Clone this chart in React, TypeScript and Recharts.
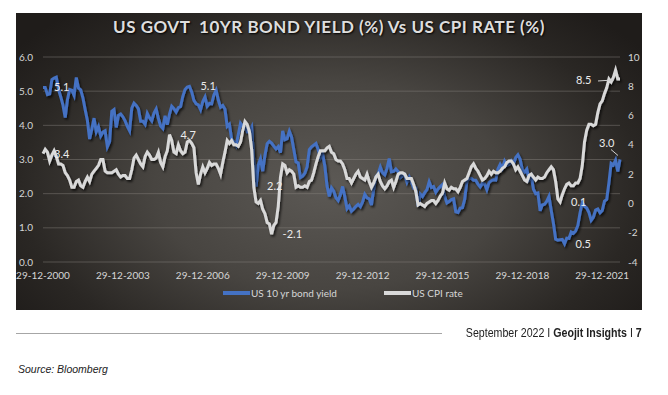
import { LineChart, Line, XAxis, YAxis, CartesianGrid, Legend, LabelList } from 'recharts'

// monthly, Dec 2000 .. Aug 2022
const bondYield = [
  5.11,
  5.11, 4.90, 4.92, 5.34, 5.38, 5.41, 5.05, 4.83, 4.59, 4.23, 4.75, 5.05,
  5.03, 4.88, 5.40, 5.09, 5.04, 4.80, 4.46, 4.14, 3.60, 3.89, 4.21, 3.81,
  3.96, 3.69, 3.80, 3.84, 3.37, 3.52, 4.41, 4.46, 3.94, 4.29, 4.33, 4.25,
  4.13, 3.97, 3.84, 4.50, 4.65, 4.58, 4.48, 4.12, 4.12, 4.03, 4.35, 4.22,
  4.13, 4.36, 4.48, 4.20, 3.98, 3.91, 4.28, 4.02, 4.33, 4.56, 4.49, 4.39,
  4.52, 4.55, 4.85, 5.05, 5.12, 5.14, 4.98, 4.73, 4.63, 4.60, 4.46, 4.70,
  4.83, 4.56, 4.64, 4.63, 4.89, 5.03, 4.74, 4.53, 4.58, 4.47, 3.97, 4.03,
  3.59, 3.51, 3.41, 3.73, 4.06, 3.97, 3.95, 3.81, 3.82, 3.95, 2.93, 2.21,
  2.84, 3.02, 2.66, 3.12, 3.46, 3.53, 3.48, 3.39, 3.31, 3.38, 3.20, 3.84,
  3.58, 3.61, 3.83, 3.66, 3.29, 2.93, 2.90, 2.47, 2.51, 2.60, 2.79, 3.29,
  3.37, 3.42, 3.47, 3.29, 3.05, 3.16, 2.80, 2.22, 1.92, 2.17, 2.07, 1.88,
  1.80, 1.97, 2.21, 1.91, 1.56, 1.64, 1.49, 1.55, 1.63, 1.69, 1.62, 1.76,
  1.98, 1.88, 1.85, 1.67, 2.13, 2.49, 2.58, 2.78, 2.61, 2.55, 2.74, 3.03,
  2.64, 2.65, 2.72, 2.65, 2.47, 2.53, 2.56, 2.34, 2.49, 2.34, 2.16, 2.17,
  1.64, 1.99, 1.92, 2.03, 2.12, 2.35, 2.18, 2.21, 2.04, 2.14, 2.21, 2.27,
  1.92, 1.73, 1.77, 1.83, 1.85, 1.47, 1.45, 1.58, 1.59, 1.83, 2.37, 2.44,
  2.45, 2.39, 2.39, 2.28, 2.20, 2.30, 2.29, 2.12, 2.33, 2.38, 2.41, 2.40,
  2.72, 2.86, 2.74, 2.95, 2.83, 2.86, 2.96, 2.86, 3.06, 3.14, 3.01, 2.69,
  2.63, 2.72, 2.41, 2.51, 2.13, 2.00, 2.02, 1.50, 1.67, 1.69, 1.78, 1.92,
  1.51, 1.13, 0.67, 0.64, 0.65, 0.66, 0.53, 0.70, 0.69, 0.88, 0.84, 0.91,
  1.07, 1.44, 1.74, 1.63, 1.58, 1.45, 1.22, 1.31, 1.52, 1.55, 1.44, 1.51,
  1.78, 1.83, 2.32, 2.89, 2.84, 2.98, 2.65, 3.00,
]

const cpiRate = [
  3.4,
  3.7, 3.5, 2.9, 3.3, 3.6, 3.2, 2.7, 2.7, 2.6, 2.1, 1.9, 1.6,
  1.1, 1.1, 1.5, 1.6, 1.2, 1.1, 1.5, 1.8, 1.5, 2.0, 2.2, 2.4,
  2.6, 3.0, 3.0, 2.2, 2.1, 2.1, 2.1, 2.2, 2.3, 2.0, 1.8, 1.9,
  1.9, 1.7, 1.7, 2.3, 3.1, 3.3, 3.0, 2.7, 2.5, 3.2, 3.5, 3.3,
  3.0, 3.0, 3.1, 3.5, 2.8, 2.5, 3.2, 3.6, 4.7, 4.3, 3.5, 3.4,
  4.0, 3.6, 3.4, 3.5, 4.2, 4.3, 4.1, 3.8, 2.1, 1.3, 2.0, 2.5,
  2.1, 2.4, 2.8, 2.6, 2.7, 2.7, 2.4, 2.0, 2.8, 3.5, 4.3, 4.1,
  4.3, 4.0, 4.0, 3.9, 4.2, 5.0, 5.6, 5.4, 4.9, 3.7, 1.1, 0.1,
  0.0, 0.2, -0.4, -0.7, -1.3, -1.4, -2.1, -1.5, -1.3, -0.2, 1.8, 2.7,
  2.6, 2.1, 2.3, 2.2, 2.0, 1.1, 1.2, 1.1, 1.1, 1.2, 1.1, 1.5,
  1.6, 2.1, 2.7, 3.2, 3.6, 3.6, 3.6, 3.8, 3.9, 3.5, 3.4, 3.0,
  2.9, 2.9, 2.7, 2.3, 1.7, 1.7, 1.4, 1.7, 2.0, 2.2, 1.8, 1.7,
  1.6, 2.0, 1.5, 1.1, 1.4, 1.8, 2.0, 1.5, 1.2, 1.0, 1.2, 1.5,
  1.6, 1.1, 1.5, 2.0, 2.1, 2.1, 2.0, 1.7, 1.7, 1.7, 1.3, 0.8,
  -0.1, 0.0, -0.1, -0.2, 0.0, 0.1, 0.2, 0.2, 0.0, 0.2, 0.5, 0.7,
  1.4, 1.0, 0.9, 1.1, 1.0, 1.0, 0.8, 1.1, 1.5, 1.6, 1.7, 2.1,
  2.5, 2.7, 2.4, 2.2, 1.9, 1.6, 1.7, 1.9, 2.2, 2.0, 2.2, 2.1,
  2.1, 2.2, 2.4, 2.5, 2.8, 2.9, 2.9, 2.7, 2.3, 2.5, 2.2, 1.9,
  1.6, 1.5, 1.9, 2.0, 1.8, 1.6, 1.8, 1.7, 1.7, 1.8, 2.1, 2.3,
  2.5, 2.3, 1.5, 0.3, 0.1, 0.6, 1.0, 1.3, 1.4, 1.2, 1.2, 1.4,
  1.4, 1.7, 2.6, 4.2, 5.0, 5.4, 5.4, 5.3, 5.4, 6.2, 6.8, 7.0,
  7.5, 7.9, 8.5, 8.3, 8.6, 9.1, 8.5, 8.5,
]

const xTicks = [0, 36, 72, 108, 144, 180, 216, 252]
const xTickLabels = ['29-12-2000', '29-12-2003', '29-12-2006', '29-12-2009', '29-12-2012', '29-12-2015', '29-12-2018', '29-12-2021']
const leftTicks = [0, 1, 2, 3, 4, 5, 6]
const rightTicks = [-4, -2, 0, 2, 4, 6, 8, 10]

// data labels: month index -> text
const bondLabels: Record<number, string> = { 0: '5.1', 66: '5.1', 96: '2.2', 235: '0.5', 260: '3.0' }
const cpiLabels: Record<number, string> = { 0: '3.4', 57: '4.7', 103: '-2.1', 233: '0.1', 260: '8.5' }

const data = bondYield.map((v, i) => ({ m: i, bond: v, cpi: cpiRate[i] }))

const BLUE = '#4472c4'
const GREY = '#d9d9d9'
const TXT = '#d6d6d6'
const FONT = 'Lato, "Open Sans", sans-serif'

const W = 626
const H = 297

const makeLabel = (labels: Record<number, string>, series: string) => (props: any) => {
  const { x, y, index } = props
  const text = labels[index]
  if (!text) return null
  const style = { fontFamily: FONT, fontSize: 11, fill: '#ececec' }
  if (index === data.length - 1) {
    if (series === 'cpi') {
      return (
        <g>
          <line x1={x - 22} y1={y + 2} x2={x - 6} y2={y + 1} stroke="#cfcfcf" strokeWidth={1} />
          <text x={x - 44} y={y + 5} style={style}>{text}</text>
        </g>
      )
    }
    return (
      <g>
        <line x1={x - 9} y1={y - 10} x2={x - 2} y2={y - 4} stroke="#cfcfcf" strokeWidth={1} />
        <text x={x - 21} y={y - 13} style={style}>{text}</text>
      </g>
    )
  }
  return <text x={x + 11} y={y + 4} style={style}>{text}</text>
}

const legendX = [207, 368]

const renderLegend = (props: any) => {
  const { payload } = props
  return (
    <div style={{ position: 'relative', width: W, height: 26 }}>
      {payload.map((entry: any, i: number) => (
        <div key={entry.value} style={{ position: 'absolute', left: legendX[i], top: 2, display: 'flex', alignItems: 'center', height: 14 }}>
          <span style={{ display: 'inline-block', width: 27, height: 4, background: entry.color }} />
          <span style={{ fontFamily: FONT, fontSize: 10, color: TXT, marginLeft: 1 }}>{entry.value}</span>
        </div>
      ))}
    </div>
  )
}

function BondCpiChart() {
  return (
    <div
      style={{
        position: 'absolute',
        left: 16,
        top: 13,
        width: W,
        height: H,
        background: 'radial-gradient(ellipse 62% 78% at 50% 58%, #5c5955 0%, #484541 45%, #2a2724 80%, #1f1c1a 100%)',
      }}
    >
      <div
        style={{
          position: 'absolute',
          top: 3,
          left: 0,
          width: W,
          textAlign: 'center',
          fontFamily: FONT,
          fontWeight: 700,
          fontSize: 17,
          letterSpacing: 0.5,
          color: '#dedede',
          whiteSpace: 'pre',
          textShadow: '1px 1px 2px #000',
          zIndex: 1,
        }}
      >
        {'US GOVT  10YR BOND YIELD (%) Vs US CPI RATE (%)'}
      </div>
      <LineChart width={W} height={H} data={data} margin={{ top: 44, right: 0, bottom: 0, left: 0 }}>
        <defs>
          <filter id="lineShadow" x="-5%" y="-10%" width="110%" height="130%">
            <feDropShadow dx="1.5" dy="2" stdDeviation="1.2" floodColor="#000" floodOpacity="0.7" />
          </filter>
        </defs>
        <CartesianGrid yAxisId="left" vertical={false} stroke="#8a8580" strokeOpacity={0.45} />
        <XAxis
          dataKey="m"
          type="number"
          domain={[0, 260]}
          ticks={xTicks}
          tickFormatter={(v: number) => xTickLabels[xTicks.indexOf(v)]}
          axisLine={false}
          tickLine={false}
          tickMargin={4}
          height={22}
          tick={{ fill: TXT, fontSize: 10, fontFamily: FONT }}
        />
        <YAxis
          yAxisId="left"
          domain={[0, 6]}
          ticks={leftTicks}
          tickFormatter={(v: number) => v.toFixed(1)}
          axisLine={false}
          tickLine={false}
          tickMargin={4}
          width={27}
          tick={{ fill: TXT, fontSize: 10, fontFamily: FONT }}
        />
        <YAxis
          yAxisId="right"
          orientation="right"
          domain={[-4, 10]}
          ticks={rightTicks}
          axisLine={false}
          tickLine={false}
          width={22}
          tick={{ fill: TXT, fontSize: 10, fontFamily: FONT }}
        />
        <Legend verticalAlign="bottom" height={26} wrapperStyle={{ left: 0, width: W }} content={renderLegend} />
        <Line
          yAxisId="left"
          dataKey="bond"
          name="US 10 yr bond yield"
          stroke={BLUE}
          strokeWidth={3}
          dot={false}
          filter="url(#lineShadow)"
          isAnimationActive={false}
        >
          <LabelList dataKey="bond" content={makeLabel(bondLabels, 'bond')} />
        </Line>
        <Line
          yAxisId="right"
          dataKey="cpi"
          name="US CPI rate"
          stroke={GREY}
          strokeWidth={3}
          dot={false}
          filter="url(#lineShadow)"
          isAnimationActive={false}
        >
          <LabelList dataKey="cpi" content={makeLabel(cpiLabels, 'cpi')} />
        </Line>
      </LineChart>
    </div>
  )
}

export default function App() {
  return (
    <div style={{ position: 'absolute', left: 0, top: 0, width: 668, height: 395, background: '#fff' }}>
      <BondCpiChart />
      <div style={{ position: 'absolute', left: 16, top: 333, width: 426, height: 1, background: '#a6a6a6' }} />
      <div
        style={{
          position: 'absolute',
          right: 26,
          top: 326,
          fontFamily: '"Liberation Sans", Arial, sans-serif',
          fontSize: 12,
          color: '#222',
          whiteSpace: 'nowrap',
          transform: 'scaleX(0.885)',
          transformOrigin: 'right center',
        }}
      >
        September 2022 I <b>Geojit Insights</b> I <b>7</b>
      </div>
      <div
        style={{
          position: 'absolute',
          left: 18,
          top: 363,
          fontFamily: '"Liberation Sans", Arial, sans-serif',
          fontStyle: 'italic',
          fontSize: 10.5,
          color: '#222',
        }}
      >
        Source: Bloomberg
      </div>
    </div>
  )
}
